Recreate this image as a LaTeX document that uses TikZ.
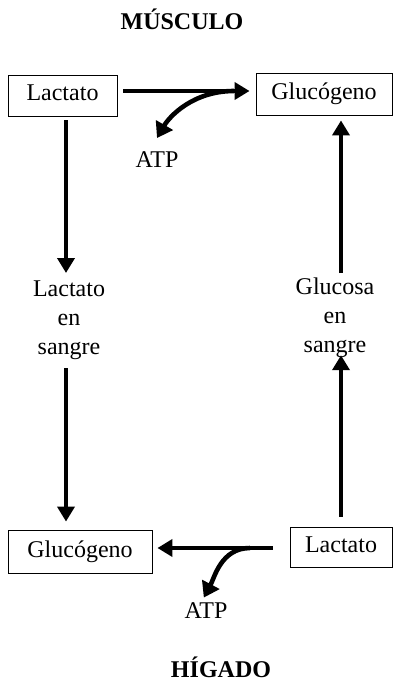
\documentclass[tikz,border=0pt]{standalone}
\usepackage{fontspec}
\setmainfont{Liberation Serif}
\usetikzlibrary{arrows.meta}
\begin{document}
\begin{tikzpicture}[x=1bp,y=-1bp,
  every node/.style={font=\fontsize{24bp}{29bp}\selectfont, inner sep=0pt},
  box/.style={draw, line width=0.9bp, text height=16bp, text depth=5bp},
  label/.style={align=center, anchor=north},
  title/.style={font=\fontsize{24bp}{29bp}\selectfont\bfseries, anchor=base},
  flow/.style={line width=4.6bp, -{Triangle[length=15bp,width=17bp]}},
  branch/.style={line width=4.6bp, -{Triangle[length=15bp,width=19bp]}}]
\useasboundingbox (0,0) rectangle (393,681);

% titles
\node[title] (mus) at (182,30) {MÚSCULO};
\node[title] (hig) at (221,677) {HÍGADO};

% muscle boxes
\node[box, minimum width=109bp, minimum height=41bp] (lt) at (62.5,95.5) {Lactato};
\node[box, minimum width=136bp, minimum height=42bp] (rg) at (324,94) {Glucógeno};

% liver boxes
\node[box, minimum width=144bp, minimum height=43bp] (bl) at (80,551.5) {Glucógeno};
\node[box, minimum width=102bp, minimum height=40bp] (lr) at (341,547) {Lactato};

% blood labels
\node[label] (ls) at (69,281) {Lactato\\en\\sangre};
\node[label] (gs) at (335,278) {Glucosa\\en\\sangre};

% ATP labels
\node (atp1) at (157,160) {ATP};
\node (atp2) at (206,611) {ATP};

% muscle: lactate to glycogen with ATP branch
\draw[flow, shorten <=6bp, shorten >=6bp] ([yshift=4.5bp]lt.east) -- ([yshift=4.5bp]lt.east -| rg.west);
\coordinate (b1) at (234,91);
\draw[branch, shorten >=16bp] (b1) to[out=180, in=60] ([xshift=-8bp]atp1.north);

% liver: lactate to glycogen with ATP branch
\draw[flow, shorten <=17bp, shorten >=5bp] ([yshift=-1bp]lr.west) -- ([yshift=-1bp]lr.west -| bl.east);
\coordinate (b2) at (250,548);
\draw[branch, shorten >=6bp] (b2) to[out=180, in=62] ([xshift=-5bp]atp2.north);

% left column: lactate into blood, then to the liver
\draw[flow, shorten <=4bp, shorten >=8bp] ([xshift=3.5bp]lt.south) -- ([xshift=3.5bp]lt.south |- ls.north);
\draw[flow, shorten <=8bp, shorten >=8bp] ([xshift=-3bp]ls.south) -- ([xshift=-3bp]ls.south |- bl.north);

% right column: lactate to blood glucose, then to muscle glycogen
\draw[flow, shorten <=10bp, shorten >=-3bp] (lr.north) -- (lr.north |- gs.south);
\draw[flow, shorten <=5bp, shorten >=5bp] (lr.north |- gs.north) -- (lr.north |- rg.south);
\end{tikzpicture}
\end{document}
